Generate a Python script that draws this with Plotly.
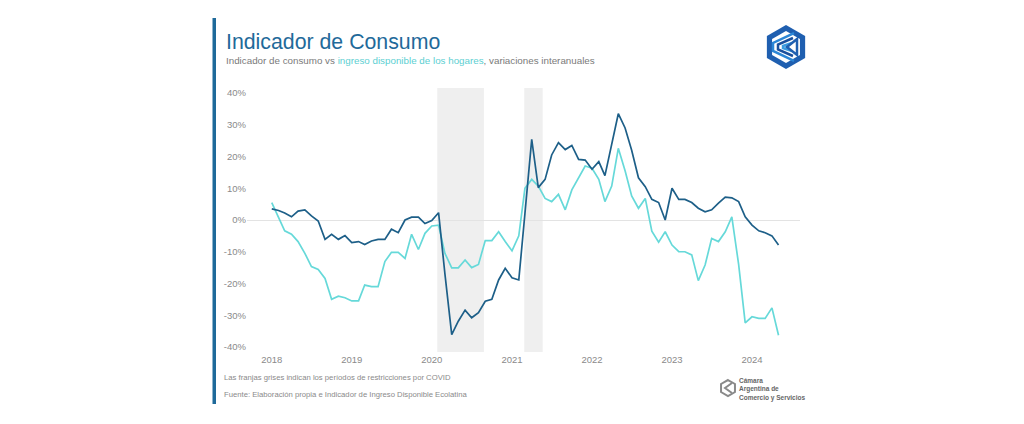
import pandas as pd
import plotly.graph_objects as go

# monthly year-on-year variation (%), Jan 2018 - May 2024
meses = pd.date_range("2018-01-01", periods=77, freq="MS")

consumo = [
    3.5, 3.0, 2.2, 1.0, 2.8, 3.2, 1.3, -0.3, -6.1, -4.5, -6.1, -4.9,
    -7.1, -6.8, -7.7, -6.6, -6.1, -6.1, -2.9, -4.0, 0.0, 0.9, 0.9, -1.1,
    -0.2, 2.3, -17.0, -36.1, -31.9, -28.4, -30.8, -29.2, -25.6, -25.0, -18.9, -15.2,
    -18.2, -18.9, 2.0, 25.4, 10.2, 12.8, 20.5, 24.4, 22.2, 23.5, 19.1, 18.9,
    16.0, 18.4, 14.0, 24.0, 33.5, 29.0, 22.0, 13.3, 10.5, 6.5, 5.5, 0.0,
    10.0, 6.5, 6.5, 5.5, 3.7, 2.6, 3.2, 5.3, 7.2, 7.0, 5.8, 1.0,
    -1.6, -3.4, -4.0, -5.0, -7.9,
]

ingreso = [
    5.5, 1.0, -3.4, -4.5, -6.8, -10.5, -14.7, -15.6, -18.4, -25.0, -24.0, -24.5,
    -25.5, -25.5, -20.5, -21.0, -21.0, -13.1, -10.2, -10.2, -12.1, -4.5, -9.3, -4.2,
    -1.9, -1.6, -10.5, -15.1, -15.1, -12.6, -15.0, -14.0, -6.5, -6.5, -3.7, -6.8,
    -9.7, -5.0, 10.0, 12.8, 10.7, 6.8, 5.8, 8.1, 3.2, 9.5, 13.1, 17.0,
    16.3, 12.8, 5.8, 10.7, 22.6, 15.5, 7.6, 3.7, 6.8, -3.5, -7.0, -3.7,
    -7.9, -10.0, -10.0, -11.0, -19.1, -14.2, -5.8, -6.8, -3.7, 1.0, -14.0, -32.4,
    -30.5, -31.0, -31.0, -27.7, -36.3,
]

# COVID restriction periods (grey bands)
franjas = [("2020-01-26", "2020-08-26"), ("2021-02-26", "2021-05-21")]

anios = [2018, 2019, 2020, 2021, 2022, 2023, 2024]
y_ticks = [-40, -30, -20, -10, 0, 10, 20, 30, 40]

AZUL = "#1f6a9a"
OSCURO = "#1d5f88"
CELESTE = "#66d9d9"

# plot area in pixels
L, R, T, B = 247, 800, 88, 352
W, H = R - L, B - T


def px(x):
    return (x - L) / W


def py(y):
    return (B - y) / H


fig = go.Figure()
fig.add_trace(go.Scatter(x=meses, y=ingreso, mode="lines", name="Ingreso",
                         line=dict(color=CELESTE, width=1.7)))
fig.add_trace(go.Scatter(x=meses, y=consumo, mode="lines", name="Consumo",
                         line=dict(color=OSCURO, width=1.7)))

shapes = []
for x0, x1 in franjas:
    shapes.append(dict(type="rect", xref="x", yref="paper", x0=x0, x1=x1, y0=0, y1=1,
                       fillcolor="#efefef", line=dict(width=0), layer="below"))

# left accent bar
shapes.append(dict(type="rect", xref="paper", yref="paper", x0=px(212.5), x1=px(216),
                   y0=py(404), y1=py(18), fillcolor=AZUL, line=dict(width=0)))


def hexagono(cx, cy, r, rx=None):
    rx = rx if rx is not None else r * 0.87
    pts = [(cx, cy - r), (cx + rx, cy - r / 2), (cx + rx, cy + r / 2),
           (cx, cy + r), (cx - rx, cy + r / 2), (cx - rx, cy - r / 2)]
    return "M " + " L ".join(f"{px(a):.4f},{py(b):.4f}" for a, b in pts) + " Z"


def linea(pts):
    return "M " + " L ".join(f"{px(a):.4f},{py(b):.4f}" for a, b in pts)


# top-right logo
cx, cy = 786, 47
shapes.append(dict(type="path", xref="paper", yref="paper", path=hexagono(cx, cy, 22),
                   fillcolor="#1f5fb0", line=dict(width=0)))
shapes.append(dict(type="path", xref="paper", yref="paper", path=hexagono(cx, cy, 16),
                   fillcolor="white", line=dict(width=0)))
for d, col in [(0, "#2b86d6"), (5, "#1a4f9c"), (10, "#3a9be0")]:
    shapes.append(dict(type="path", xref="paper", yref="paper",
                       path=linea([(cx + 8 - d * 0.2, cy - 14 + d), (cx - 13 + d, cy - 4 + d * 0.3),
                                   (cx - 13 + d, cy + 4 - d * 0.3), (cx + 8 - d * 0.2, cy + 14 - d)]),
                       line=dict(color=col, width=2.5)))
shapes.append(dict(type="path", xref="paper", yref="paper",
                   path=linea([(cx + 11, cy - 8), (cx + 1, cy), (cx + 11, cy + 8)]) + " Z",
                   fillcolor="white", line=dict(color="#1f5fb0", width=2.5)))

# bottom-right small logo
bx, by = 728, 388
shapes.append(dict(type="path", xref="paper", yref="paper", path=hexagono(bx, by, 8),
                   fillcolor="rgba(0,0,0,0)", line=dict(color="#8a8a8a", width=2)))
shapes.append(dict(type="path", xref="paper", yref="paper",
                   path=linea([(bx + 4, by - 5), (bx - 3, by), (bx + 4, by + 5)]),
                   line=dict(color="#8a8a8a", width=2)))

annotations = [
    dict(text="Indicador de Consumo", x=px(224), y=py(42), xref="paper", yref="paper",
         xanchor="left", yanchor="middle", showarrow=False,
         font=dict(size=21.3, color=AZUL)),
    dict(text="Indicador de consumo vs <span style='color:#5ccfd2'>ingreso disponible de los hogares</span>, variaciones interanuales",
         x=px(224), y=py(61), xref="paper", yref="paper", xanchor="left", yanchor="middle",
         showarrow=False, font=dict(size=9.8, color="#7a7a7a")),
    dict(text="Las franjas grises indican los períodos de restricciones por COVID",
         x=px(222), y=py(377), xref="paper", yref="paper", xanchor="left", yanchor="middle",
         showarrow=False, font=dict(size=7.7, color="#8a8a8a")),
    dict(text="Fuente: Elaboración propia e Indicador de Ingreso Disponible Ecolatina",
         x=px(222), y=py(394), xref="paper", yref="paper", xanchor="left", yanchor="middle",
         showarrow=False, font=dict(size=7.7, color="#8a8a8a")),
    dict(text="<b>Cámara<br>Argentina de<br>Comercio y Servicios</b>",
         x=px(737), y=py(389), xref="paper", yref="paper", xanchor="left", yanchor="middle",
         align="left", showarrow=False, font=dict(size=6.5, color="#666666")),
]

fig.update_layout(
    width=1024, height=424,
    margin=dict(l=L, r=1024 - R, t=T, b=424 - B),
    paper_bgcolor="white", plot_bgcolor="white",
    showlegend=False,
    font=dict(family="Liberation Sans, Arial, sans-serif", color="#8a8a8a"),
    shapes=shapes,
    annotations=annotations,
    xaxis=dict(
        range=["2017-09-10", "2024-08-07"],
        tickvals=[f"{a}-01-01" for a in anios],
        ticktext=[str(a) for a in anios],
        showgrid=False, zeroline=False, showline=False, ticks="",
        tickfont=dict(size=9.5, color="#8a8a8a"),
    ),
    yaxis=dict(
        range=[-41.6, 41.6],
        tickvals=y_ticks,
        ticktext=[f"{v}%" for v in y_ticks],
        showgrid=False, zeroline=True, zerolinecolor="#e3e3e3", zerolinewidth=1,
        showline=False, ticks="",
        tickfont=dict(size=9.5, color="#8a8a8a"),
    ),
)

# drop the default page margin so the figure sits at the window's top-left corner
fig.write_html("out.html", config={"displayModeBar": False},
               post_script="document.body.style.margin='0';")
